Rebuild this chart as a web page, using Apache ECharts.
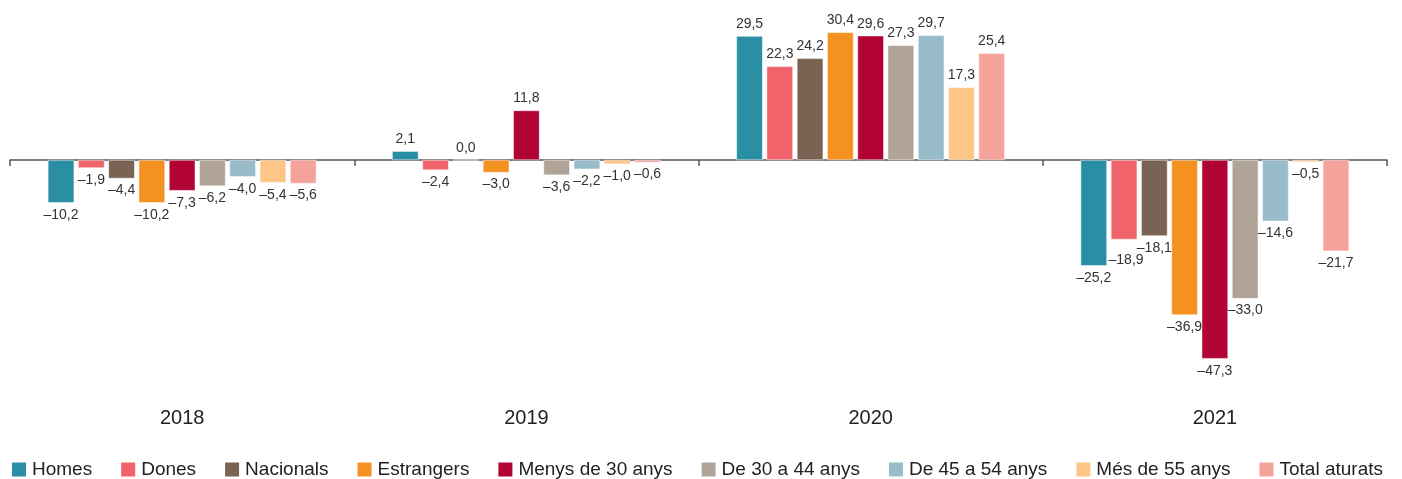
<!DOCTYPE html>
<html><head><meta charset="utf-8">
<script src="https://cdn.jsdelivr.net/npm/echarts@6/dist/echarts.min.js"></script>
<style>html,body{margin:0;padding:0;background:#fff}#c{width:1402px;height:479px}</style>
</head><body><div id="c"></div>
<script>
const years = ['2018','2019','2020','2021'];
const seriesNames = ['Homes','Dones','Nacionals','Estrangers','Menys de 30 anys','De 30 a 44 anys','De 45 a 54 anys','Més de 55 anys','Total aturats'];
const colors = ['#2A8FA5','#F0636B','#7A6353','#F59120','#B20434','#B0A398','#99BCCB','#FDC687','#F5A29B'];
const homes = [-10.2, 2.1, 29.5, -25.2];
const dones = [-1.9, -2.4, 22.3, -18.9];
const nacionals = [-4.4, 0.0, 24.2, -18.1];
const estrangers = [-10.2, -3.0, 30.4, -36.9];
const menys30 = [-7.3, 11.8, 29.6, -47.3];
const de30a44 = [-6.2, -3.6, 27.3, -33.0];
const de45a54 = [-4.0, -2.2, 29.7, -14.6];
const mes55 = [-5.4, -1.0, 17.3, -0.5];
const total = [-5.6, -0.6, 25.4, -21.7];
const values = [homes, dones, nacionals, estrangers, menys30, de30a44, de45a54, mes55, total];

const fmt = v => { const s = Math.abs(v).toFixed(1).replace('.', ','); return v < 0 ? '\u2013' + s : s; };
const FONT = '"Liberation Sans", Arial, sans-serif';

const chart = echarts.init(document.getElementById('c'));
chart.setOption({
  animation: false,
  textStyle: { fontFamily: FONT },
  grid: { left: 10, right: 15, top: 13, bottom: 88 },
  legend: {
    left: 10, top: 460, padding: 0, itemWidth: 16, itemHeight: 16, itemGap: 27, icon: 'rect',
    textStyle: { fontSize: 19, color: '#222', fontFamily: FONT },
    data: seriesNames
  },
  xAxis: [
    { type: 'category', data: years, axisLine: { onZero: true, lineStyle: { color: '#555', width: 1.5 } },
      axisTick: { show: true, length: 6, lineStyle: { color: '#555', width: 1.5 } },
      axisLabel: { show: false } },
    { type: 'category', data: years, position: 'bottom', axisLine: { show: false, onZero: false },
      axisTick: { show: false }, axisLabel: { fontSize: 20, color: '#222', margin: 17, fontFamily: FONT } }
  ],
  yAxis: { type: 'value', min: -55, max: 35, show: false, splitLine: { show: false } },
  series: seriesNames.map((n, i) => ({
    name: n, type: 'bar', xAxisIndex: 0,
    data: values[i].map((v, j) => {
      const lab = { position: v < 0 ? 'bottom' : 'top' };
      if (i === 1 && j === 3) lab.offset = [2, 9];
      return { value: v, label: lab };
    }),
    barGap: '15%', barCategoryGap: '22%',
    itemStyle: { color: colors[i], borderColor: '#fff', borderWidth: 0.5 },
    label: {
      show: true, fontSize: 14, color: '#333', fontFamily: FONT,
      distance: 5,
      formatter: p => fmt(p.value)
    }
  }))
});
</script>
</body></html>
